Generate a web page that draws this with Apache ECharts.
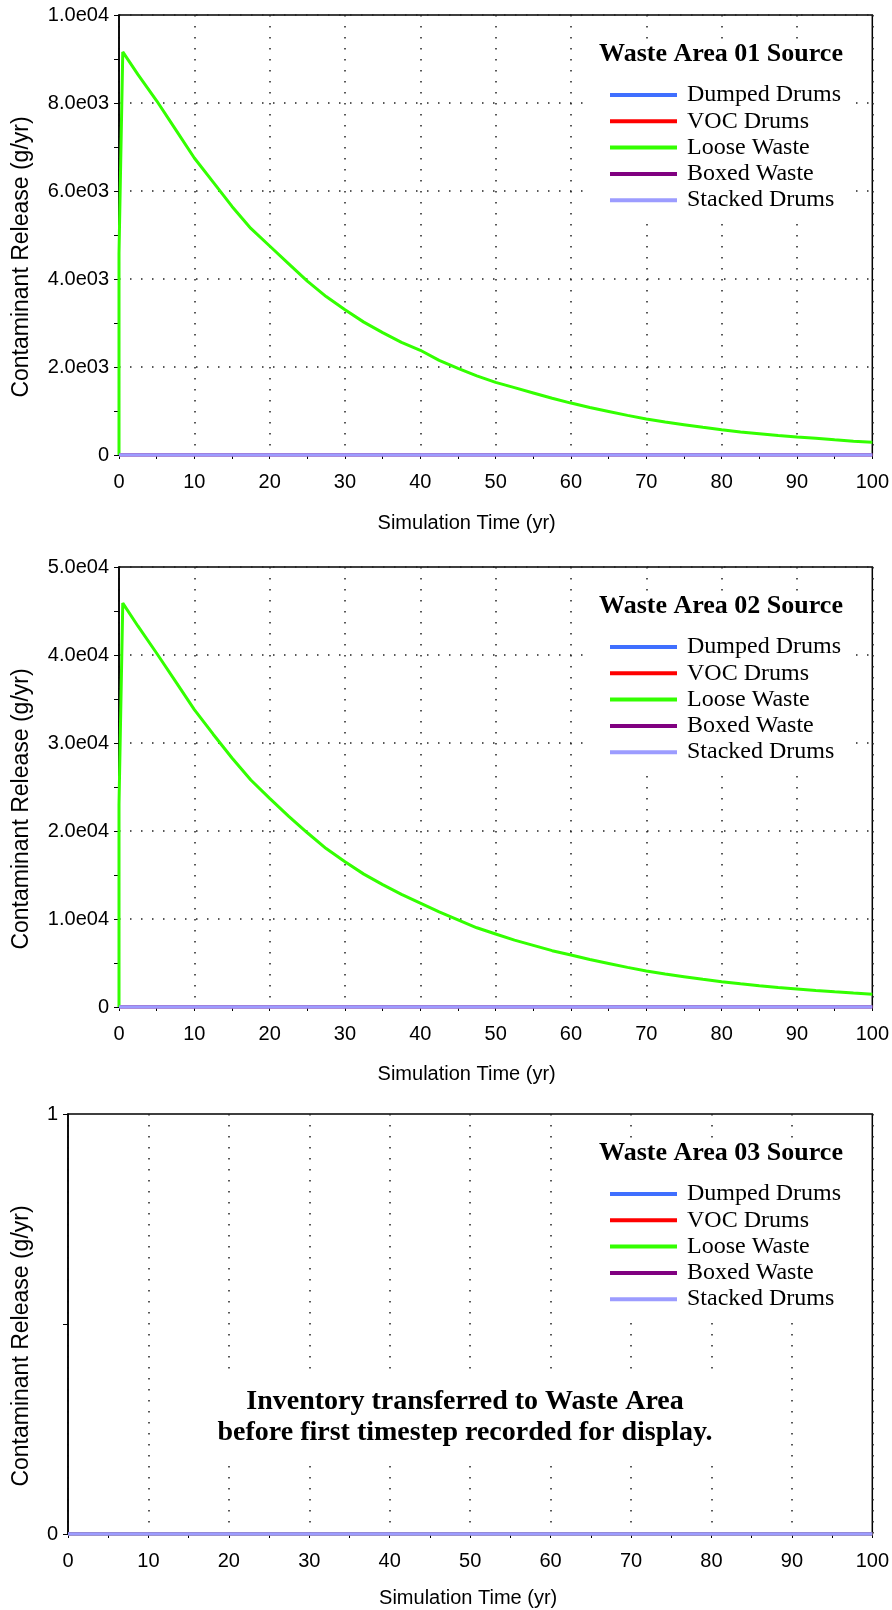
<!DOCTYPE html>
<html>
<head>
<meta charset="utf-8">
<script src="https://cdn.jsdelivr.net/npm/echarts@6/dist/echarts.min.js"></script>
<style>
html,body{margin:0;padding:0;background:#fff;}
#chart{width:892px;height:1610px;}
</style>
</head>
<body>
<div id="chart"></div>
<script>
// ---------- DATA ----------
const seriesNames = ['Dumped Drums', 'VOC Drums', 'Loose Waste', 'Boxed Waste', 'Stacked Drums'];
const seriesColors = ['#3f6fff', '#ff0000', '#33ff00', '#800080', '#9c9cff'];
const panelTitles = ['Waste Area 01 Source', 'Waste Area 02 Source', 'Waste Area 03 Source'];
const noteText = ['Inventory transferred to Waste Area', 'before first timestep recorded for display.'];
const xAxisTitle = 'Simulation Time (yr)';
const yAxisTitle = 'Contaminant Release (g/yr)';

const yLabels1 = ['0', '2.0e03', '4.0e03', '6.0e03', '8.0e03', '1.0e04'];
const yLabels2 = ['0', '1.0e04', '2.0e04', '3.0e04', '4.0e04', '5.0e04'];
const yLabels3 = ['0', '', '1'];

// time points (yr) of the Loose Waste curves
const looseTimes = [0, 0, 0.5, 2.5, 5, 7.5, 10, 12.5, 15, 17.5, 20, 22.5, 25, 27.5, 30, 32.5, 35, 37.5, 40,
  42.5, 45, 47.5, 50, 52.5, 55, 57.5, 60, 62.5, 65, 67.5, 70, 72.5, 75, 77.5, 80, 82.5, 85, 87.5, 90,
  92.5, 95, 97.5, 100];
// Waste Area 01, Loose Waste (g/yr)
const loose1 = [0, 4580, 9160, 8650, 8050, 7400, 6750, 6200, 5650, 5150, 4750, 4350, 3950, 3600, 3300,
  3020, 2780, 2560, 2380, 2150, 1970, 1800, 1650, 1530, 1410, 1290, 1180, 1080, 990, 900, 820, 750,
  690, 630, 575, 525, 485, 445, 410, 380, 345, 315, 290];
// Waste Area 02, Loose Waste (g/yr)
const loose2 = [0, 23000, 45900, 43300, 40200, 37000, 33800, 31000, 28300, 25800, 23700, 21700, 19800,
  18000, 16500, 15100, 13900, 12800, 11800, 10800, 9900, 9000, 8300, 7600, 7000, 6400, 5900, 5400,
  4950, 4500, 4100, 3750, 3450, 3150, 2880, 2630, 2420, 2220, 2050, 1880, 1720, 1580, 1450];
// all other sources (and everything in Waste Area 03) stay at zero
const zeroTimes = [0, 100];
const zeroValues = [0, 0];

// ---------- CHART ----------
const chart = echarts.init(document.getElementById('chart'));
const SANS = 'Liberation Sans';
const SERIF = 'Liberation Serif';

const panels = [
  { left: 119, top: 15, width: 755, height: 440, ymax: 10000, yint: 2000, ylabels: yLabels1, loose: loose1, ygrid: true, yNameGap: 86, xNameGap: 58, xPad: [0, 58, 0, 0] },
  { left: 119, top: 567, width: 755, height: 440, ymax: 50000, yint: 10000, ylabels: yLabels2, loose: loose2, ygrid: true, yNameGap: 86, xNameGap: 57, xPad: [0, 58, 0, 0] },
  { left: 68, top: 1114, width: 806, height: 420, ymax: 1, yint: 0.5, ylabels: yLabels3, loose: null, ygrid: false, yNameGap: 35, xNameGap: 54, xPad: [0, 4, 0, 0] }
];

const grid = [], xAxis = [], yAxis = [], series = [], legend = [], title = [];

panels.forEach((p, k) => {
  grid.push({ left: p.left, top: p.top, width: p.width, height: p.height, show: true,
    borderColor: '#000', borderWidth: 1.5, backgroundColor: 'transparent', containLabel: false });
  xAxis.push({
    gridIndex: k, type: 'value', min: 0, max: 100, interval: 10,
    name: xAxisTitle, nameLocation: 'middle', nameGap: p.xNameGap,
    nameTextStyle: { fontFamily: SANS, fontSize: 20, color: '#000', padding: p.xPad },
    axisLine: { show: true, onZero: false, lineStyle: { color: '#000', width: 1.5 } },
    axisTick: { show: true, length: 4, lineStyle: { color: '#000' } },
    minorTick: { show: true, splitNumber: 2, length: 4, lineStyle: { color: '#000' } },
    axisLabel: { fontFamily: SANS, fontSize: 20, color: '#000', margin: 17 },
    splitLine: { show: true, lineStyle: { color: '#222', width: 1.5, type: [1.5, 9.5] } }
  });
  yAxis.push({
    gridIndex: k, type: 'value', min: 0, max: p.ymax, interval: p.yint,
    name: yAxisTitle, nameLocation: 'middle', nameGap: p.yNameGap, nameRotate: 90,
    nameTextStyle: { fontFamily: SANS, fontSize: 23, color: '#000', padding: [0, 44, 0, 0] },
    axisLine: { show: true, onZero: false, lineStyle: { color: '#000', width: 1.5 } },
    axisTick: { show: true, length: 5, lineStyle: { color: '#000' } },
    minorTick: { show: p.ygrid, splitNumber: 2, length: 5, lineStyle: { color: '#000' } },
    axisLabel: { fontFamily: SANS, fontSize: 20, color: '#000', margin: 10,
      formatter: (v) => p.ylabels[Math.round(v / p.yint)] },
    splitLine: { show: p.ygrid, lineStyle: { color: '#222', width: 1.5, type: [1.5, 9.5] } }
  });
  seriesNames.forEach((name, i) => {
    let data;
    if (name === 'Loose Waste' && p.loose) {
      data = looseTimes.map((t, j) => [t, p.loose[j]]);
    } else {
      data = zeroTimes.map((t, j) => [t, zeroValues[j]]);
    }
    series.push({
      name: name, type: 'line', xAxisIndex: k, yAxisIndex: k, data: data,
      showSymbol: false, symbol: 'none', animation: false, z: 2 + i * 0.1,
      lineStyle: { color: seriesColors[i], width: name === 'Stacked Drums' ? 3.5 : 3 },
      itemStyle: { color: seriesColors[i] }
    });
  });
  title.push({
    text: panelTitles[k], left: p.left + (k === 2 ? 647 : 596), top: p.top + 24, textAlign: 'center',
    backgroundColor: '#fff', padding: [2, 6, 2, 6], z: 7,
    textStyle: { fontFamily: SERIF, fontWeight: 'bold', fontSize: 26, color: '#000' }
  });
  legend.push({
    data: seriesNames, orient: 'vertical', left: p.left + (k === 2 ? 522 : 471), top: p.top + 51,
    backgroundColor: '#fff', padding: [16, 8, 6, 20], itemGap: 0.3,
    itemWidth: 67, itemHeight: 4, icon: 'rect', selectedMode: false,
    textStyle: { fontFamily: SERIF, fontSize: 24, color: '#000', lineHeight: 26, padding: [0, 0, 0, 5] }
  });
});

title.push({
  text: noteText.join('\n'), left: 455, top: 1374, textAlign: 'center',
  backgroundColor: '#fff', padding: [12, 10, 14, 10], z: 7,
  textStyle: { fontFamily: SERIF, fontWeight: 'bold', fontSize: 28, lineHeight: 31, color: '#000' }
});

chart.setOption({
  backgroundColor: '#fff',
  animation: false,
  grid, xAxis, yAxis, series, legend, title
});
</script>
</body>
</html>
